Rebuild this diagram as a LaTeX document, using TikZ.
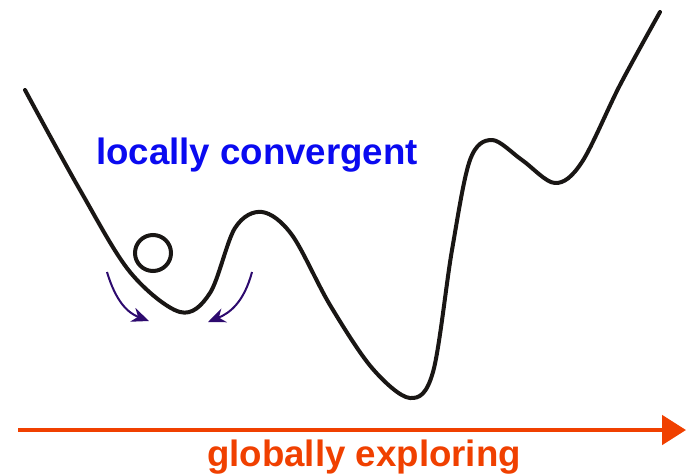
\documentclass[tikz,border=0pt]{standalone}
\usepackage{fontspec}
\setmainfont{Liberation Sans}
\usetikzlibrary{arrows.meta}
\definecolor{inkblue}{RGB}{10,10,240}
\definecolor{inkorange}{RGB}{240,64,0}
\definecolor{inkviolet}{RGB}{45,10,110}
\definecolor{inkblack}{RGB}{25,22,20}
\tikzset{
  landscape/.style={draw=inkblack,line width=3pt,line cap=round,line join=round},
  nudge/.style={draw=inkviolet,line width=1.5pt,-{Stealth[length=13pt,width=11pt]}},
  axisarrow/.style={draw=inkorange,line width=3pt,-{Triangle[length=18pt,width=22pt]}},
  lbl/.style={font=\bfseries\fontsize{27.5}{31}\selectfont,inner sep=0pt}
}
\begin{document}
\begin{tikzpicture}[x=0.75pt,y=-0.75pt]
\useasboundingbox (0,0) rectangle (686,475);
% landscape
\draw[landscape] plot[smooth,tension=0.55] coordinates {
 (25,90) (80,190) (130,272) (180,312) (210,293) (235,228) (262,212) (292,235)
 (330,305) (372,368) (410,398) (433,372) (452,250) (470,160) (492,140) (522,160)
 (555,183) (582,162) (620,85) (660,12)};
% ball
\node[draw=inkblack,line width=3pt,circle,minimum size=27pt,inner sep=0pt] (ball) at (153,253) {};
% nudge arrows
\coordinate (la) at (107,272);
\coordinate (lb) at (149,321);
\coordinate (ra) at (252,272);
\coordinate (rb) at (208,322);
\draw[nudge] (la) .. controls (116,302) and (128,313) .. (lb);
\draw[nudge] (ra) .. controls (244,302) and (230,313) .. (rb);
% labels
\node[lbl,text=inkblue] (local) at (257,155) {locally convergent};
\coordinate (ax0) at (18,430);
\coordinate (ax1) at (686,430);
\draw[axisarrow] (ax0) -- (ax1);
\node[lbl,text=inkorange] (global) at (364,457) {globally exploring};
\end{tikzpicture}
\end{document}
